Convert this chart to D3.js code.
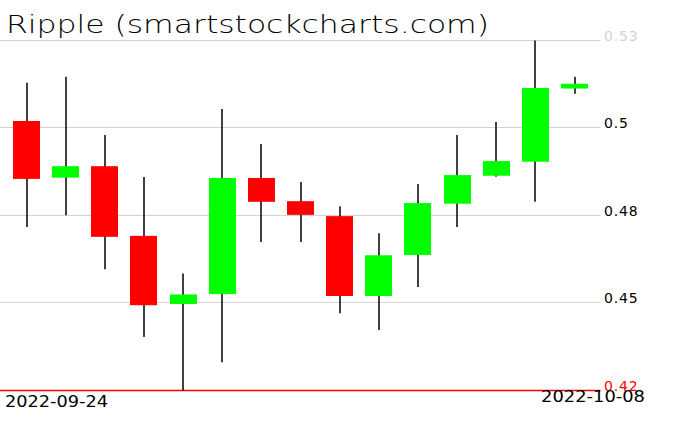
<!DOCTYPE html>
<html>
<head>
<meta charset="utf-8">
<script src="https://cdn.jsdelivr.net/npm/d3@7"></script>
<style>
  html, body { margin: 0; padding: 0; background: #fff; }
  svg { display: block; }
</style>
</head>
<body>
<svg id="chart" width="676" height="431"></svg>
<script>
const title = "Ripple (smartstockcharts.com)";
const dates = ["2022-09-24","2022-09-25","2022-09-26","2022-09-27","2022-09-28","2022-09-29","2022-09-30",
               "2022-10-01","2022-10-02","2022-10-03","2022-10-04","2022-10-05","2022-10-06","2022-10-07","2022-10-08"];
const open  = [0.5067,0.4889,0.4925,0.4706,0.4492,0.4523,0.4888,0.4815,0.4768,0.4517,0.4646,0.4807,0.4895,0.4939,0.5169];
const high  = [0.5187,0.5206,0.5023,0.4891,0.4588,0.5105,0.4995,0.4875,0.4799,0.4714,0.4869,0.5023,0.5064,0.5320,0.5206];
const low   = [0.4734,0.4771,0.4601,0.4388,0.4220,0.4309,0.4687,0.4687,0.4463,0.4410,0.4545,0.4734,0.4892,0.4813,0.5153];
const close = [0.4885,0.4925,0.4703,0.4488,0.4522,0.4888,0.4813,0.4772,0.4517,0.4645,0.4809,0.4897,0.4941,0.5171,0.5184];
const tickLabels = ["0.42","0.45","0.48","0.5","0.53"];
const xLabels = ["2022-09-24","2022-10-08"];

const svg = d3.select("#chart");
const minV = d3.min(low), maxV = d3.max(high);
const y = d3.scaleLinear().domain([minV, maxV]).range([390.5, 40.5]);
const x = d3.scalePoint().domain(dates).range([26.5, 574.5]);
const bodyW = 27;
const gridX1 = 600.5;

const tickVals = d3.range(tickLabels.length).map(i => minV + (maxV - minV) * i / (tickLabels.length - 1));
const py = v => Math.floor(y(v)) + 0.5;

// gridlines
svg.append("g").selectAll("line").data(tickVals).join("line")
  .attr("x1", 0).attr("x2", gridX1)
  .attr("y1", py).attr("y2", py)
  .attr("stroke", (d, i) => i === 0 ? "#ff0000" : "#d3d3d3")
  .attr("stroke-width", (d, i) => i === 0 ? 1.3 : 1);

// y labels
svg.append("g").selectAll("text").data(tickVals).join("text")
  .attr("x", 604).attr("y", d => py(d) + 0.5)
  .attr("font-family", "DejaVu Sans, sans-serif")
  .attr("font-size", 14)
  .attr("letter-spacing", 0.8)
  .attr("fill", (d, i) => i === 0 ? "#ff0000" : (i === tickVals.length - 1 ? "#d3d3d3" : "#000"))
  .text((d, i) => tickLabels[i]);

// title
svg.append("text")
  .attr("x", 6).attr("y", 32.5)
  .attr("font-family", "DejaVu Sans, sans-serif")
  .attr("font-weight", 200)
  .attr("font-size", 24)
  .attr("textLength", 483)
  .attr("lengthAdjust", "spacingAndGlyphs")
  .attr("fill", "#000")
  .text(title);

// candles
const data = dates.map((d, i) => ({d, o: open[i], h: high[i], l: low[i], c: close[i]}));
const g = svg.append("g");
g.selectAll("line.wick").data(data).join("line")
  .attr("class", "wick")
  .attr("x1", d => Math.round(x(d.d))).attr("x2", d => Math.round(x(d.d)))
  .attr("y1", d => y(d.h)).attr("y2", d => y(d.l))
  .attr("stroke", "#000").attr("stroke-width", 1.5);
g.selectAll("rect").data(data).join("rect")
  .attr("x", d => Math.round(x(d.d) - bodyW / 2))
  .attr("width", bodyW)
  .attr("y", d => y(Math.max(d.o, d.c)))
  .attr("height", d => Math.max(1, Math.abs(y(d.o) - y(d.c))))
  .attr("fill", d => d.c >= d.o ? "#00ff00" : "#ff0000");

// x labels
svg.append("text")
  .attr("x", x(xLabels[0]) - 21.5).attr("y", 406.5)
  .attr("font-family", "DejaVu Sans, sans-serif")
  .attr("font-size", 15)
  .attr("textLength", 103).attr("lengthAdjust", "spacingAndGlyphs")
  .attr("fill", "#000")
  .text(xLabels[0]);
svg.append("text")
  .attr("x", x(xLabels[1]) - 33.5).attr("y", 401.5)
  .attr("font-family", "DejaVu Sans, sans-serif")
  .attr("font-size", 15)
  .attr("textLength", 104).attr("lengthAdjust", "spacingAndGlyphs")
  .attr("fill", "#000")
  .text(xLabels[1]);
</script>
</body>
</html>
